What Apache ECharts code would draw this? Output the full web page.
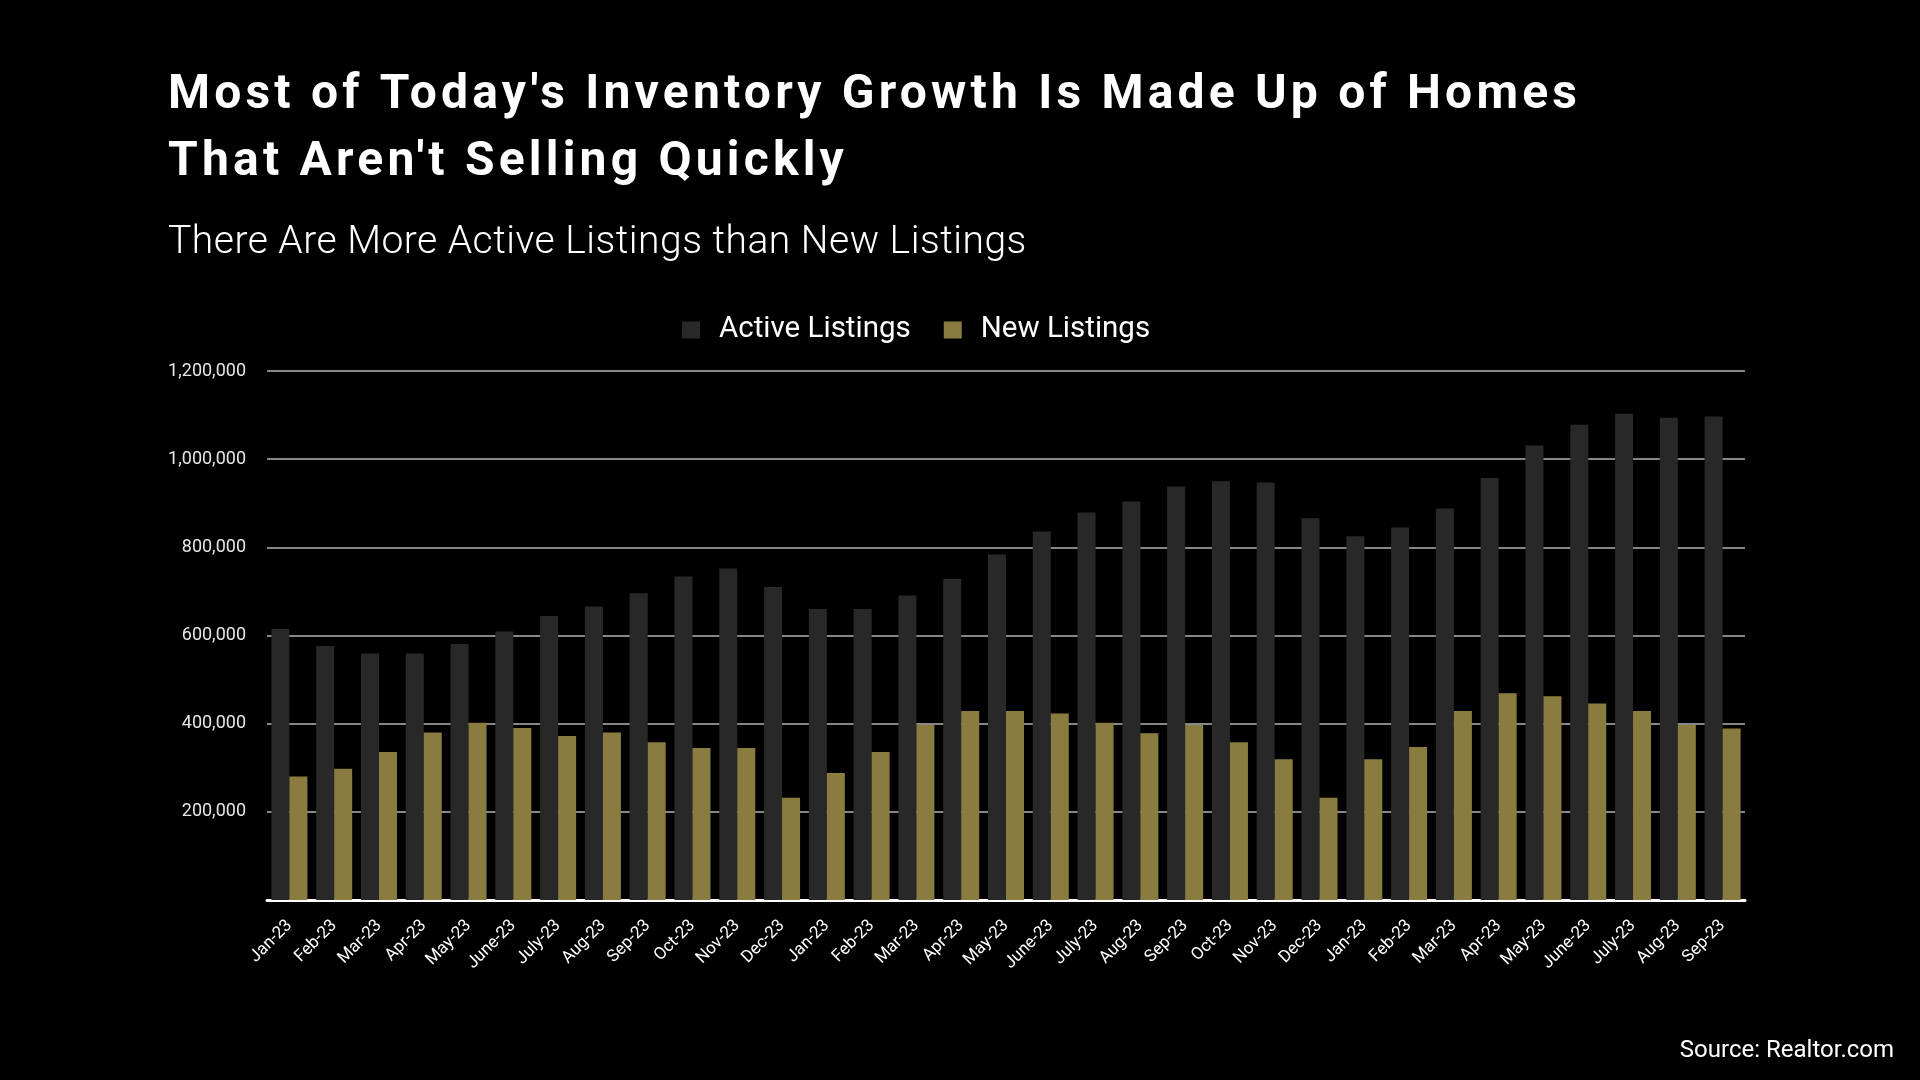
<!DOCTYPE html>
<html>
<head>
<meta charset="utf-8">
<script src="https://cdn.jsdelivr.net/npm/echarts@6/dist/echarts.min.js"></script>
<style>
html,body{margin:0;padding:0;background:#000;}
#chart{width:1920px;height:1080px;}
</style>
</head>
<body>
<div id="chart"></div>
<script>
const categories = ["Jan-23","Feb-23","Mar-23","Apr-23","May-23","June-23","July-23","Aug-23","Sep-23","Oct-23","Nov-23","Dec-23",
  "Jan-23","Feb-23","Mar-23","Apr-23","May-23","June-23","July-23","Aug-23","Sep-23","Oct-23","Nov-23","Dec-23",
  "Jan-23","Feb-23","Mar-23","Apr-23","May-23","June-23","July-23","Aug-23","Sep-23"];
const activeListings = [615000,576000,559000,559000,581000,609000,644000,666000,696000,734000,752000,710000,
  660000,660000,691000,728000,784000,836000,879000,904000,938000,950000,947000,866000,
  825000,845000,888000,957000,1031000,1078000,1103000,1094000,1097000];
const newListings = [280000,298000,336000,380000,402000,390000,372000,380000,358000,345000,345000,232000,
  288000,336000,397000,429000,429000,423000,402000,378000,397000,358000,319000,232000,
  319000,347000,429000,469000,462000,446000,429000,397000,389000];
const yTicks = [0,200000,400000,600000,800000,1000000,1200000];

// letter spacing (tracking) for the title and subtitle text, keyed by font size
const tracking = {'48px':'4.2px','39px':'0.5px'};
(function(){
  const proto = CanvasRenderingContext2D.prototype;
  const orig = proto.fillText;
  proto.fillText = function(t,x,y,m){
    if (!('letterSpacing' in this)) return orig.apply(this, arguments);
    const f = this.font;
    let sp = '0px';
    for (const k in tracking) { if ((' ' + f + ' ').indexOf(' ' + k + ' ') >= 0) sp = tracking[k]; }
    this.letterSpacing = sp;
    this.font = f;
    const r = orig.apply(this, arguments);
    this.letterSpacing = '0px';
    this.font = f;
    return r;
  };
})();

const chart = echarts.init(document.getElementById('chart'));
chart.setOption({
  backgroundColor: '#000',
  animation: false,
  title: [
    {
      text: "Most of Today's Inventory Growth Is Made Up of Homes\nThat Aren't Selling Quickly",
      left: 163, top: 57,
      textStyle: {color:'#fff', fontFamily:'Roboto', fontWeight:'bold', fontSize:48, lineHeight:67}
    },
    {
      text: 'There Are More Active Listings than New Listings',
      left: 163, top: 215,
      textStyle: {color:'#fff', fontFamily:'Roboto', fontWeight:300, fontSize:39, lineHeight:46}
    },
    {
      text: 'Source: Realtor.com',
      right: 21, top: 1032,
      textStyle: {color:'#fff', fontFamily:'Roboto', fontWeight:'normal', fontSize:24, lineHeight:28}
    }
  ],
  legend: {
    top: 310, left: 677,
    itemWidth: 18, itemHeight: 17, itemGap: 33, icon: 'rect',
    textStyle: {color:'#fff', fontFamily:'Roboto', fontSize:29.5, padding:[0,0,0,14]},
    data: ['Active Listings','New Listings']
  },
  grid: {left: 267, right: 175, top: 371, bottom: 180, containLabel: false},
  xAxis: {
    type: 'category',
    data: categories,
    axisLine: {show:true, lineStyle:{color:'#fff', width:3}},
    axisTick: {show:false},
    axisLabel: {color:'#fff', fontFamily:'Roboto', fontSize:17, rotate:45, margin:23, interval:0}
  },
  yAxis: {
    type: 'value',
    min: yTicks[0], max: yTicks[yTicks.length-1], interval: yTicks[1]-yTicks[0],
    axisLine: {show:false},
    axisTick: {show:false},
    splitLine: {lineStyle:{color:'#b4b4b4', width:1.5}},
    axisLabel: {
      color:'#e6e6e6', fontFamily:'Roboto', fontSize:18, margin:21,
      formatter: v => v === 0 ? '' : v.toLocaleString('en-US')
    }
  },
  series: [
    {name:'Active Listings', type:'bar', data: activeListings, barWidth:18, barGap:'0%',
     itemStyle:{color:'#282828'}},
    {name:'New Listings', type:'bar', data: newListings, barWidth:18, barGap:'0%',
     itemStyle:{color:'#8a7c40'}}
  ]
});
</script>
</body>
</html>
